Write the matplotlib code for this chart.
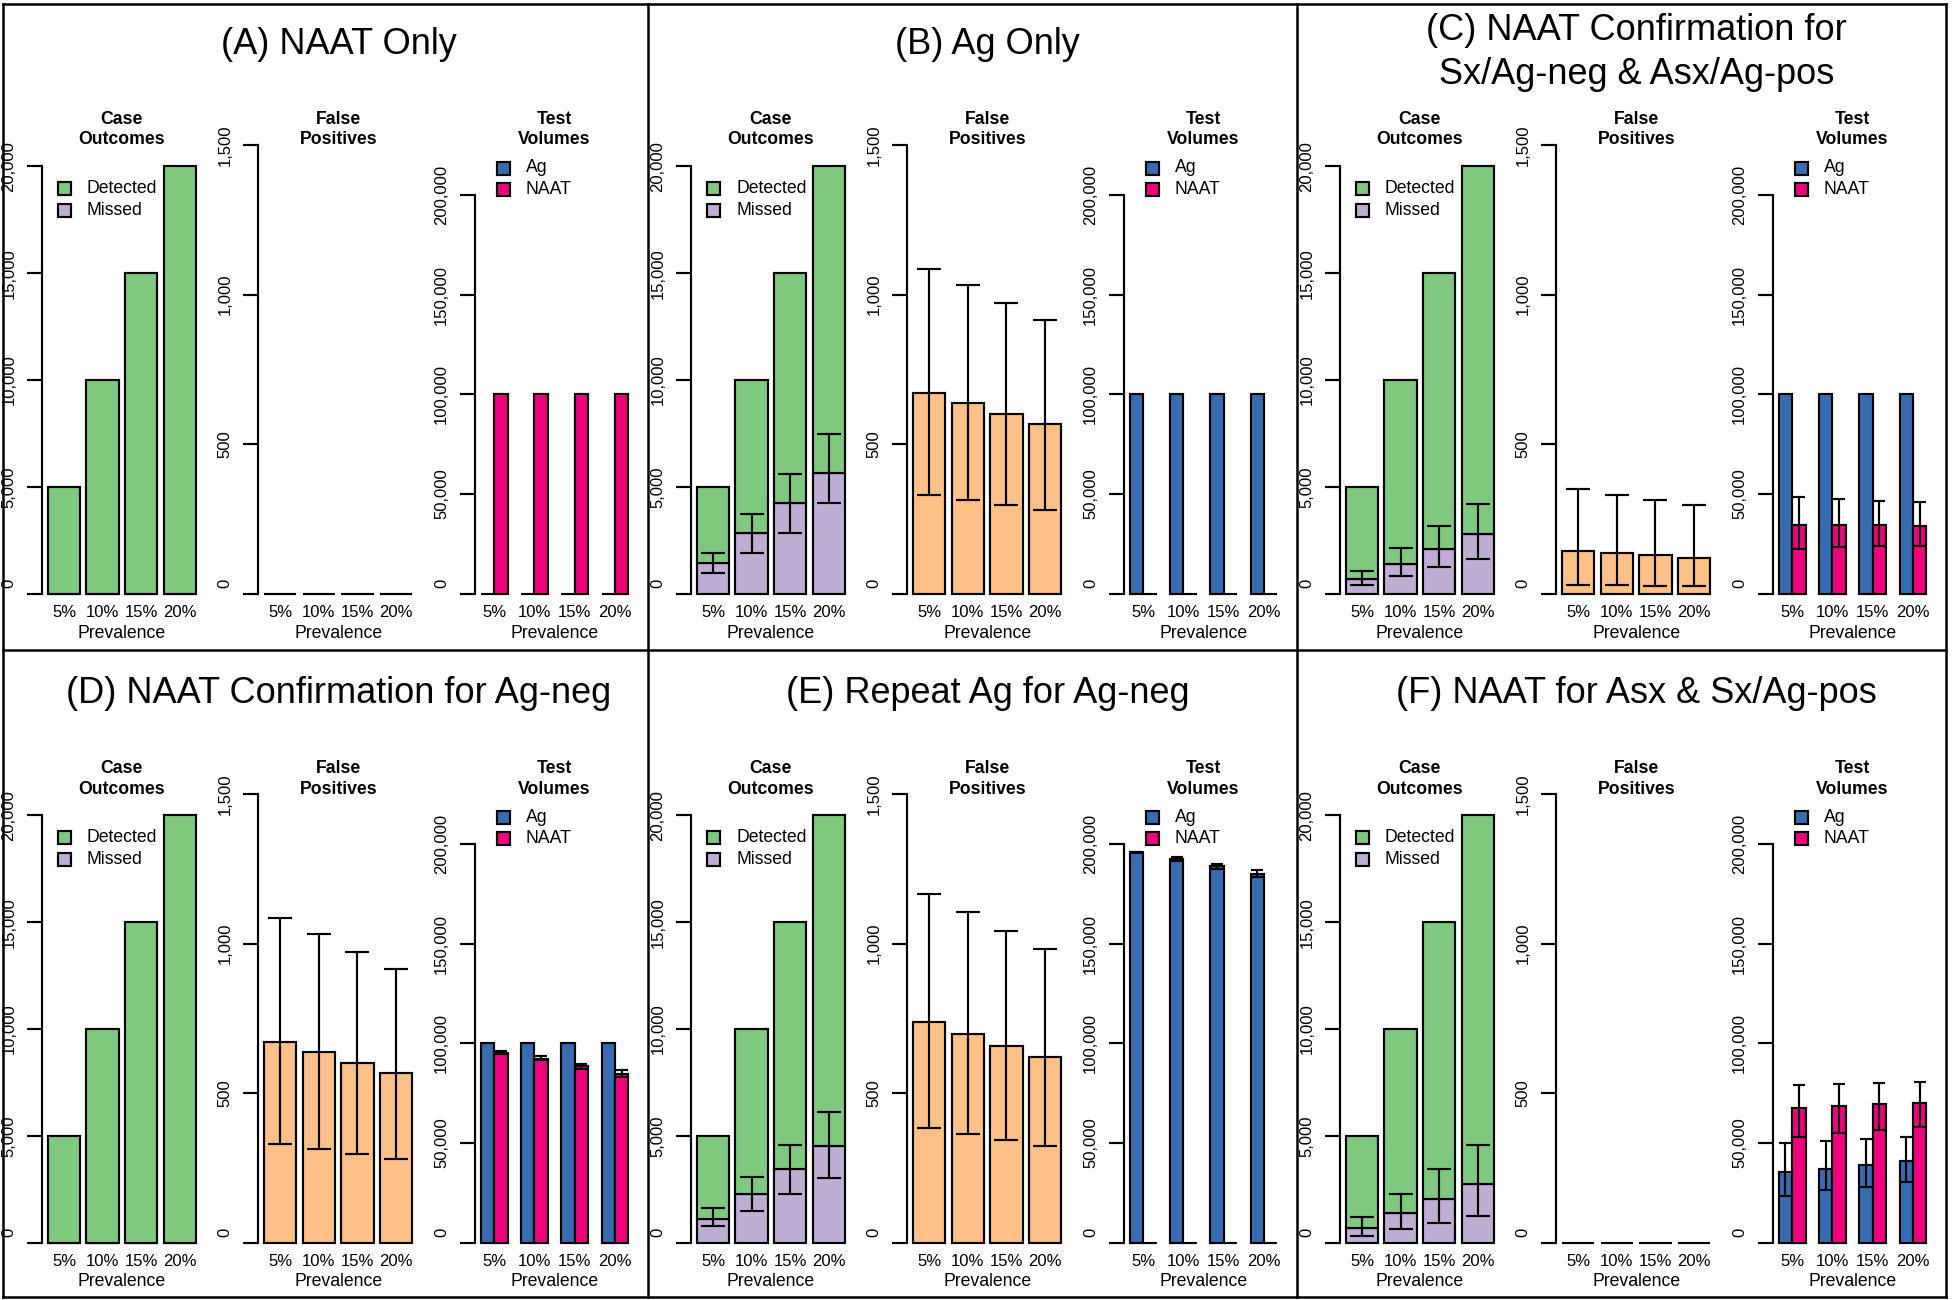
import matplotlib
matplotlib.use("Agg")
import matplotlib.pyplot as plt
from matplotlib.transforms import blended_transform_factory, offset_copy
from matplotlib.lines import Line2D
from matplotlib.patches import Rectangle
import numpy as np

plt.rcParams['font.family'] = ['Liberation Sans', 'DejaVu Sans']

W, H, DPI = 1952, 1300, 100

# ---------------- data ----------------
prevalence = ["5%", "10%", "15%", "20%"]
total_cases = [5000, 10000, 15000, 20000]

panel_titles = [
    ["(A) NAAT Only"],
    ["(B) Ag Only"],
    ["(C) NAAT Confirmation for", "Sx/Ag-neg & Asx/Ag-pos"],
    ["(D) NAAT Confirmation for Ag-neg"],
    ["(E) Repeat Ag for Ag-neg"],
    ["(F) NAAT for Asx & Sx/Ag-pos"],
]

# Missed cases (mean, lower, upper)
missed_A = [0, 0, 0, 0]
missed_B = [1450, 2840, 4240, 5660]
missed_B_lo = [970, 1920, 2860, 4260]
missed_B_hi = [1890, 3740, 5610, 7460]
missed_C = [680, 1390, 2110, 2800]
missed_C_lo = [420, 835, 1250, 1640]
missed_C_hi = [1050, 2120, 3160, 4210]
missed_D = [0, 0, 0, 0]
missed_E = [1120, 2260, 3430, 4540]
missed_E_lo = [780, 1500, 2260, 3010]
missed_E_hi = [1640, 3055, 4580, 6110]
missed_F = [700, 1370, 2040, 2760]
missed_F_lo = [330, 620, 935, 1250]
missed_F_hi = [1185, 2260, 3430, 4550]

# False positives (mean, lower, upper)
fp_A = [0, 0, 0, 0]
fp_B = [672, 637, 602, 567]
fp_B_lo = [331, 314, 297, 280]
fp_B_hi = [1087, 1032, 973, 916]
fp_C = [143, 136, 128, 120]
fp_C_lo = [30, 29, 27, 26]
fp_C_hi = [349, 331, 312, 296]
fp_D = [672, 637, 602, 567]
fp_D_lo = [331, 314, 297, 280]
fp_D_hi = [1087, 1032, 973, 916]
fp_E = [737, 697, 659, 621]
fp_E_lo = [382, 363, 343, 323]
fp_E_hi = [1165, 1104, 1042, 981]
fp_F = [0, 0, 0, 0]

# Test volumes (Ag, NAAT; mean, lower, upper)
ag_A = [0, 0, 0, 0]
naat_A = [100000, 100000, 100000, 100000]
ag_B = [100000, 100000, 100000, 100000]
naat_B = [0, 0, 0, 0]
ag_C = [100000, 100000, 100000, 100000]
naat_C = [34500, 34350, 34300, 34000]
naat_C_lo = [22400, 23250, 23800, 24150]
naat_C_hi = [48650, 47400, 46500, 46000]
ag_D = [100000, 100000, 100000, 100000]
naat_D = [95200, 92300, 88500, 84800]
naat_D_lo = [94500, 91500, 87300, 83150]
naat_D_hi = [96150, 93500, 89800, 86800]
ag_E = [195800, 192500, 188800, 185000]
ag_E_lo = [195330, 191650, 187480, 183300]
ag_E_hi = [196160, 193490, 189980, 186640]
naat_E = [0, 0, 0, 0]
ag_F = [35700, 37100, 38800, 40900]
ag_F_lo = [23600, 26200, 28000, 30500]
ag_F_hi = [50000, 50900, 52100, 53000]
naat_F = [67300, 68300, 69400, 70200]
naat_F_lo = [53000, 55200, 56400, 58200]
naat_F_hi = [79200, 79700, 80100, 80400]

panels = [
    dict(missed=(missed_A, None, None), fp=(fp_A, None, None),
         ag=(ag_A, None, None), naat=(naat_A, None, None)),
    dict(missed=(missed_B, missed_B_lo, missed_B_hi), fp=(fp_B, fp_B_lo, fp_B_hi),
         ag=(ag_B, None, None), naat=(naat_B, None, None)),
    dict(missed=(missed_C, missed_C_lo, missed_C_hi), fp=(fp_C, fp_C_lo, fp_C_hi),
         ag=(ag_C, None, None), naat=(naat_C, naat_C_lo, naat_C_hi)),
    dict(missed=(missed_D, None, None), fp=(fp_D, fp_D_lo, fp_D_hi),
         ag=(ag_D, None, None), naat=(naat_D, naat_D_lo, naat_D_hi)),
    dict(missed=(missed_E, missed_E_lo, missed_E_hi), fp=(fp_E, fp_E_lo, fp_E_hi),
         ag=(ag_E, ag_E_lo, ag_E_hi), naat=(naat_E, None, None)),
    dict(missed=(missed_F, missed_F_lo, missed_F_hi), fp=(fp_F, None, None),
         ag=(ag_F, ag_F_lo, ag_F_hi), naat=(naat_F, naat_F_lo, naat_F_hi)),
]

col_green = "#7FC97F"
col_purple = "#BEAED4"
col_orange = "#FDC086"
col_blue = "#386CB0"
col_pink = "#F0027F"

# ---------------- layout ----------------
fig = plt.figure(figsize=(W / DPI, H / DPI), dpi=DPI)
LW = 1.55
FS_TICK = 12.0
FS_TXT = 12.7
FS_TITLE = 26.0
PX = 72.0 / DPI  # points per pixel

def fx(x):
    return x / W

def fy(y):
    return 1 - y / H

AX_W = 159.7
SPAN = 448.7  # pixels from 0 to ylim top


def make_axes(xl, y_top_px, top_val):
    h = SPAN * 1.04
    ax = fig.add_axes([fx(xl), fy(y_top_px + h), AX_W / W, h / H])
    ax.set_ylim(-0.04 * top_val, top_val)
    for s in ("top", "right", "bottom"):
        ax.spines[s].set_visible(False)
    ax.spines["left"].set_linewidth(LW)
    ax.set_xticks([])
    ax.patch.set_visible(False)
    return ax


def yaxis(ax, ticks):
    ax.spines["left"].set_bounds(ticks[0], ticks[-1])
    ax.set_yticks(ticks)
    ax.tick_params(axis="y", length=15 * PX, width=LW, labelleft=False)
    for v in ticks:
        tr = offset_copy(ax.get_yaxis_transform(), fig=fig, x=-33 * PX,
                         y=(10 * PX if v == 0 else 0), units="points")
        ax.text(0, v, f"{v:,}", transform=tr, rotation=90, ha="center",
                va="center", fontsize=FS_TICK)


def xlabels(ax, centers, oy, xl):
    tr = blended_transform_factory(ax.transData, fig.transFigure)
    for c, lab in zip(centers, prevalence):
        ax.text(c, fy(612 + oy), lab, transform=tr, ha="center", va="center",
                fontsize=FS_TICK)
    fig.text(fx(xl + AX_W / 2), fy(633 + oy), "Prevalence", ha="center",
             va="center", fontsize=FS_TXT)


def subtitle(xl, oy, l1, l2):
    fig.text(fx(xl + AX_W / 2), fy(119 + oy), l1, ha="center", va="center",
             fontsize=FS_TXT, fontweight="bold")
    fig.text(fx(xl + AX_W / 2), fy(140 + oy), l2, ha="center", va="center",
             fontsize=FS_TXT, fontweight="bold")


def legend(xl, oy, y1, sq_dx, txt_dx, items):
    for j, (lab, col) in enumerate(items):
        yc = y1 + j * 21.5 + oy
        fig.add_artist(Rectangle((fx(xl + sq_dx), fy(yc + 6.5)), 13.5 / W, 13 / H,
                                 transform=fig.transFigure, facecolor=col,
                                 edgecolor="black", linewidth=LW))
        fig.text(fx(xl + txt_dx), fy(yc), lab, ha="left", va="center",
                 fontsize=FS_TXT)


def errbars(ax, x, vals, lo, hi, cap):
    if lo is None:
        return
    v = np.array(vals, float)
    ax.errorbar(x, v, yerr=[v - np.array(lo), np.array(hi) - v], fmt="none",
                ecolor="black", elinewidth=LW, capsize=cap, capthick=LW,
                zorder=5)


x_single = np.array([0.7, 1.9, 3.1, 4.3])
x_ag = np.array([1.5, 4.5, 7.5, 10.5])
x_naat = np.array([2.5, 5.5, 8.5, 11.5])
x_group = np.array([2.0, 5.0, 8.0, 11.0])

for i, pd_ in enumerate(panels):
    r, p = divmod(i, 3)
    ox, oy = 649 * p, 649 * r
    ytop = 145 + oy
    xls = [42 + ox + 216.35 * k for k in range(3)]

    # Case outcomes
    ax = make_axes(xls[0], ytop, 21000)
    ax.set_xlim(0.016, 4.984)
    m, mlo, mhi = pd_["missed"]
    det = np.array(total_cases) - np.array(m)
    ax.bar(x_single, m, width=1, color=col_purple, edgecolor="black", linewidth=LW)
    ax.bar(x_single, det, bottom=m, width=1, color=col_green, edgecolor="black",
           linewidth=LW)
    errbars(ax, x_single, m, mlo, mhi, 8.5)
    yaxis(ax, [0, 5000, 10000, 15000, 20000])
    xlabels(ax, x_single, oy, xls[0])
    subtitle(xls[0], oy, "Case", "Outcomes")
    legend(xls[0], oy, 188.6, 15.7, 45, [("Detected", col_green), ("Missed", col_purple)])

    # False positives
    ax = make_axes(xls[1], ytop, 1500)
    ax.set_xlim(0.016, 4.984)
    f, flo, fhi = pd_["fp"]
    ax.bar(x_single, f, width=1, color=col_orange, edgecolor="black", linewidth=LW)
    errbars(ax, x_single, f, flo, fhi, 8.5)
    yaxis(ax, [0, 500, 1000, 1500])
    xlabels(ax, x_single, oy, xls[1])
    subtitle(xls[1], oy, "False", "Positives")

    # Test volumes
    ax = make_axes(xls[2], ytop, 225000)
    ax.set_xlim(0.56, 12.44)
    a, alo, ahi = pd_["ag"]
    n, nlo, nhi = pd_["naat"]
    ax.bar(x_ag, a, width=1, color=col_blue, edgecolor="black", linewidth=LW)
    ax.bar(x_naat, n, width=1, color=col_pink, edgecolor="black", linewidth=LW)
    errbars(ax, x_ag, a, alo, ahi, 4.5)
    errbars(ax, x_naat, n, nlo, nhi, 4.5)
    yaxis(ax, [0, 50000, 100000, 150000, 200000])
    xlabels(ax, x_group, oy, xls[2])
    subtitle(xls[2], oy, "Test", "Volumes")
    legend(xls[2], oy, 168, 22, 51, [("Ag", col_blue), ("NAAT", col_pink)])

    # Panel title
    tl = panel_titles[i]
    cx = ox + 338.5
    if len(tl) == 1:
        fig.text(fx(cx), fy(44.5 + oy), tl[0], ha="center", va="center",
                 fontsize=FS_TITLE)
    else:
        fig.text(fx(cx), fy(31 + oy), tl[0], ha="center", va="center",
                 fontsize=FS_TITLE)
        fig.text(fx(cx), fy(75 + oy), tl[1], ha="center", va="center",
                 fontsize=FS_TITLE)

# Panel borders
bx = [2.5, 647.5, 1297, 1946]
by = [4, 650, 1297]
for x in bx:
    fig.add_artist(Line2D([fx(x), fx(x)], [fy(by[0]), fy(by[-1])],
                          transform=fig.transFigure, color="black", linewidth=1.8))
for y in by:
    fig.add_artist(Line2D([fx(bx[0]), fx(bx[-1])], [fy(y), fy(y)],
                          transform=fig.transFigure, color="black", linewidth=1.8))

fig.savefig("out.png", dpi=DPI)
